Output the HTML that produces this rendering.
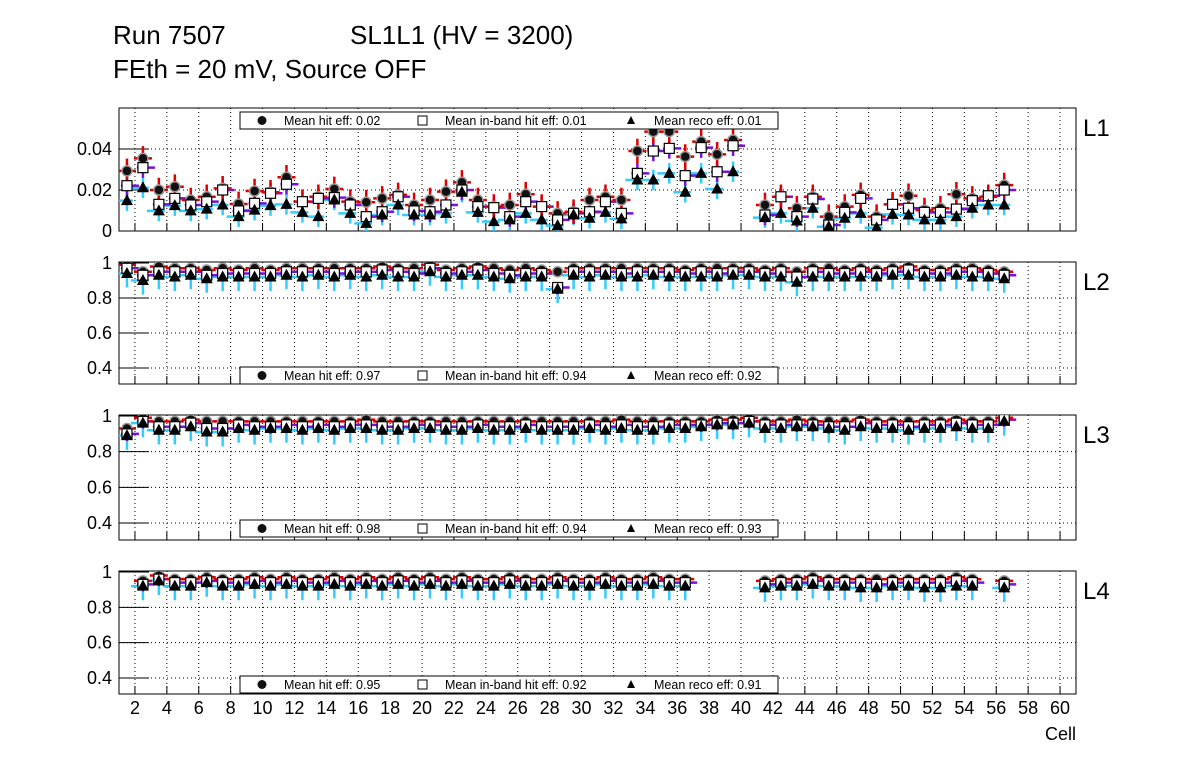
<!DOCTYPE html>
<html><head><meta charset="utf-8"><style>
html,body{margin:0;padding:0;background:#fff;}
svg{display:block;font-family:"Liberation Sans",sans-serif;}
</style></head><body>
<svg id="c" width="1196" height="772" viewBox="0 0 1196 772" xmlns="http://www.w3.org/2000/svg">
<rect width="1196" height="772" fill="#fff"/>
<text x="113" y="44" font-size="26">Run 7507</text>
<text x="350" y="44" font-size="26">SL1L1 (HV = 3200)</text>
<text x="113" y="78" font-size="26">FEth = 20 mV, Source OFF</text>
<text x="1076" y="740" font-size="18" text-anchor="end">Cell</text>
</svg>
<script>
const cells = [];
for (let k = 1; k <= 56; k++) cells.push(k + 0.5);
const layerNames = ["L1","L2","L3","L4"];
const meanHit = ["0.02","0.97","0.98","0.95"];
const meanInband = ["0.01","0.94","0.94","0.92"];
const meanReco = ["0.01","0.92","0.93","0.91"];
const xTicks = [2,4,6,8,10,12,14,16,18,20,22,24,26,28,30,32,34,36,38,40,42,44,46,48,50,52,54,56,58,60];
const yTicksL1 = [0,0.02,0.04];
const yTickLabelsL1 = ["0","0.02","0.04"];
const yTicksL = [0.4,0.6,0.8,1];
const yTickLabelsL = ["0.4","0.6","0.8","1"];
const N = null;
const hitL1 = [0.0293,0.0354,0.0200,0.0216,0.0151,0.0167,0.0208,0.0132,0.0195,0.0189,0.0262,0.0143,0.0167,0.0205,0.0143,0.0140,0.0159,0.0176,0.0127,0.0151,0.0192,0.0237,0.0151,0.0119,0.0127,0.0179,0.0119,0.0086,0.0094,0.0151,0.0167,0.0151,0.0390,0.0485,0.0485,0.0363,0.0436,0.0374,0.0444,N,0.0127,0.0167,0.0111,0.0167,0.0070,0.0119,0.0176,0.0070,0.0130,0.0172,0.0102,0.0111,0.0179,0.0159,0.0167,0.0224];
const inbandL1 = [0.0221,0.0309,0.0130,0.0159,0.0127,0.0143,0.0200,0.0098,0.0135,0.0184,0.0228,0.0143,0.0159,0.0163,0.0127,0.0070,0.0094,0.0167,0.0098,0.0094,0.0127,0.0200,0.0119,0.0114,0.0070,0.0143,0.0119,0.0054,0.0086,0.0094,0.0143,0.0086,0.0281,0.0390,0.0403,0.0270,0.0407,0.0289,0.0416,N,0.0078,0.0167,0.0070,0.0156,0.0029,0.0091,0.0159,0.0054,0.0130,0.0111,0.0091,0.0091,0.0107,0.0148,0.0172,0.0200];
const recoL1 = [0.0148,0.0211,0.0098,0.0124,0.0098,0.0107,0.0127,0.0070,0.0102,0.0124,0.0130,0.0091,0.0070,0.0151,0.0086,0.0037,0.0078,0.0127,0.0078,0.0078,0.0086,0.0189,0.0091,0.0046,0.0054,0.0086,0.0054,0.0026,0.0078,0.0062,0.0091,0.0059,0.0249,0.0249,0.0281,0.0189,0.0281,0.0205,0.0289,N,0.0065,0.0086,0.0049,0.0111,0.0021,0.0062,0.0086,0.0016,0.0081,0.0078,0.0054,0.0054,0.0070,0.0111,0.0127,0.0127];
const hitL2 = [0.99,0.95,0.98,0.97,0.97,0.96,0.97,0.96,0.97,0.96,0.97,0.97,0.97,0.97,0.97,0.97,0.98,0.97,0.97,0.99,0.96,0.97,0.98,0.97,0.96,0.97,0.96,0.95,0.97,0.97,0.97,0.97,0.97,0.97,0.97,0.96,0.97,0.97,0.97,0.97,0.96,0.97,0.95,0.97,0.97,0.96,0.97,0.96,0.97,0.98,0.96,0.96,0.97,0.97,0.96,0.95];
const inbandL2 = [0.97,0.93,0.95,0.95,0.95,0.93,0.94,0.94,0.94,0.94,0.95,0.95,0.95,0.94,0.95,0.95,0.96,0.95,0.94,0.97,0.94,0.95,0.96,0.94,0.93,0.94,0.94,0.86,0.95,0.95,0.95,0.94,0.95,0.95,0.95,0.94,0.95,0.94,0.95,0.95,0.94,0.95,0.92,0.95,0.94,0.94,0.95,0.94,0.95,0.96,0.94,0.94,0.95,0.95,0.94,0.93];
const recoL2 = [0.94,0.90,0.93,0.92,0.93,0.91,0.92,0.92,0.92,0.92,0.93,0.92,0.93,0.92,0.93,0.92,0.93,0.92,0.92,0.95,0.92,0.93,0.93,0.92,0.91,0.92,0.92,0.85,0.93,0.92,0.93,0.92,0.92,0.93,0.92,0.92,0.92,0.92,0.93,0.93,0.92,0.92,0.89,0.92,0.92,0.92,0.92,0.92,0.93,0.93,0.92,0.92,0.93,0.92,0.92,0.91];
const hitL3 = [0.93,0.99,0.97,0.97,0.98,0.97,0.97,0.97,0.97,0.97,0.97,0.97,0.97,0.97,0.97,0.98,0.97,0.97,0.97,0.97,0.97,0.97,0.97,0.97,0.97,0.97,0.97,0.97,0.97,0.97,0.97,0.98,0.97,0.97,0.97,0.97,0.97,0.98,0.98,0.99,0.97,0.97,0.98,0.97,0.97,0.97,0.98,0.97,0.97,0.97,0.97,0.97,0.98,0.97,0.97,0.99];
const inbandL3 = [0.90,0.97,0.94,0.94,0.96,0.93,0.93,0.95,0.94,0.94,0.95,0.94,0.95,0.94,0.95,0.95,0.94,0.94,0.95,0.95,0.94,0.94,0.95,0.94,0.94,0.95,0.94,0.94,0.94,0.95,0.94,0.95,0.94,0.94,0.95,0.95,0.95,0.96,0.96,0.97,0.95,0.95,0.95,0.95,0.94,0.94,0.96,0.95,0.95,0.94,0.95,0.95,0.96,0.95,0.95,0.98];
const recoL3 = [0.89,0.96,0.92,0.92,0.94,0.91,0.91,0.93,0.92,0.93,0.93,0.92,0.93,0.92,0.93,0.93,0.92,0.92,0.93,0.93,0.92,0.92,0.93,0.92,0.92,0.93,0.92,0.92,0.92,0.93,0.92,0.93,0.92,0.92,0.93,0.93,0.94,0.95,0.95,0.96,0.93,0.93,0.94,0.94,0.93,0.92,0.94,0.93,0.93,0.92,0.93,0.93,0.94,0.93,0.93,0.97];
const hitL4 = [N,0.95,0.98,0.96,0.96,0.97,0.96,0.96,0.97,0.96,0.97,0.96,0.96,0.97,0.96,0.97,0.96,0.97,0.96,0.97,0.96,0.97,0.96,0.96,0.97,0.96,0.96,0.97,0.96,0.96,0.97,0.96,0.96,0.97,0.96,0.96,N,N,N,N,0.95,0.96,0.96,0.97,0.96,0.96,0.96,0.96,0.96,0.96,0.96,0.96,0.97,0.96,N,0.95];
const inbandL4 = [N,0.93,0.96,0.94,0.94,0.95,0.94,0.94,0.95,0.94,0.95,0.94,0.94,0.95,0.94,0.95,0.94,0.95,0.94,0.95,0.94,0.95,0.94,0.94,0.95,0.94,0.94,0.95,0.94,0.94,0.95,0.94,0.94,0.95,0.94,0.94,N,N,N,N,0.93,0.94,0.94,0.95,0.94,0.94,0.94,0.93,0.94,0.94,0.94,0.94,0.95,0.94,N,0.93];
const recoL4 = [N,0.92,0.95,0.92,0.92,0.94,0.92,0.92,0.93,0.92,0.93,0.92,0.92,0.93,0.92,0.93,0.92,0.93,0.92,0.93,0.92,0.93,0.92,0.92,0.93,0.92,0.92,0.93,0.92,0.92,0.93,0.92,0.92,0.93,0.92,0.92,N,N,N,N,0.91,0.92,0.92,0.93,0.92,0.92,0.91,0.91,0.92,0.92,0.91,0.91,0.92,0.92,N,0.91];
const hitSeries = [hitL1,hitL2,hitL3,hitL4];
const inbandSeries = [inbandL1,inbandL2,inbandL3,inbandL4];
const recoSeries = [recoL1,recoL2,recoL3,recoL4];

const svg = document.getElementById('c');
const NS = 'http://www.w3.org/2000/svg';
function mk(tag, a, parent){ const e=document.createElementNS(NS,tag); for(const k in a) e.setAttribute(k,a[k]); (parent||svg).appendChild(e); return e; }
const X0 = 119, X1 = 1076;
function xs(c){ return X0 + (c-1)*(X1-X0)/60; }
const geo = [
  {top:108,bot:231,v0:0,p0:231,v1:0.04,p1:149,legY:112},
  {top:262,bot:384,v0:1,p0:263,v1:0.4,p1:368,legY:367},
  {top:415,bot:540,v0:1,p0:416,v1:0.4,p1:523,legY:520},
  {top:571,bot:694,v0:1,p0:572,v1:0.4,p1:678,legY:676}
];
for (let p=0;p<4;p++){
  const g = geo[p];
  const ys = v => g.p0 + (v-g.v0)*(g.p1-g.p0)/(g.v1-g.v0);
  const grp = mk('g',{});
  
  
  const cp = mk('clipPath',{id:'cp'+p},grp);
  mk('rect',{x:X0,y:g.top,width:X1-X0,height:g.bot-g.top},cp);
  xTicks.forEach(t=>{
    const l = mk('line',{x1:xs(t),x2:xs(t),y1:g.top,y2:g.bot,stroke:'#000','stroke-width':1,'stroke-dasharray':'1,3'},grp);
    
    
    const tk = mk('line',{x1:xs(t),x2:xs(t),y1:g.bot,y2:g.bot-8,stroke:'#000'},grp);
    
    
  });
  const yt = p===0 ? yTicksL1 : yTicksL;
  const ytl = p===0 ? yTickLabelsL1 : yTickLabelsL;
  yt.forEach((t,i)=>{
    const y = ys(t);
    if (t!==1 && t!==0){
      const l = mk('line',{x1:X0,x2:X1,y1:y,y2:y,stroke:'#000','stroke-dasharray':'1,3'},grp);
      
      
    }
    const tk = mk('line',{x1:X0,x2:X0+30,y1:y,y2:y,stroke:'#000'},grp);
    
    
    const tx = mk('text',{x:112,y:y+6,'font-size':18,'text-anchor':'end'},grp);
    tx.textContent = ytl[i];
    
    
  });
  const fr = mk('rect',{x:X0,y:g.top,width:X1-X0,height:g.bot-g.top,fill:'none',stroke:'#000','stroke-width':1},grp);
  
  
  const lab = mk('text',{x:1083,y:g.top+28,'font-size':24},grp);
  lab.textContent = layerNames[p];
  
  
  const data = mk('g',{'clip-path':'url(#cp'+p+')'},grp);
  const eUp = p===0 ? [0.006,0.005,0.005] : [0.015,0.025,0.04];
  const eDn = p===0 ? [0.006,0.005,0.005] : [0.03,0.04,0.08];
  const series = [[recoSeries[p],'#33ccff',-12,6,2],[inbandSeries[p],'#7711dd',-6,12,1],[hitSeries[p],'#dd0000',-9,9,0]];
  series.forEach(([arr,col,a,b,si])=>{
    arr.forEach((v,i)=>{
      if (v===null) return;
      const x = xs(cells[i]), y = ys(v);
      const eb = mk('path',{d:`M${x},${ys(v+eUp[si])}V${ys(v-eDn[si])}M${x+a},${y}H${x+b}`,stroke:col,'stroke-width':2.5,fill:'none'},data);
      
      
    });
  });
  hitSeries[p].forEach((v,i)=>{ if(v===null) return;
    const m = mk('circle',{cx:xs(cells[i]),cy:ys(v),r:5,fill:'#111',stroke:'#999','stroke-width':1.5},data);
    
    
  });
  inbandSeries[p].forEach((v,i)=>{ if(v===null) return;
    const m = mk('rect',{x:xs(cells[i])-5,y:ys(v)-5,width:10,height:10,fill:'#fff',stroke:'#000','stroke-width':1.2},data);
    
    
  });
  recoSeries[p].forEach((v,i)=>{ if(v===null) return;
    const x=xs(cells[i]), y=ys(v);
    const m = mk('path',{d:`M${x},${y-6.5}L${x+6},${y+4.5}L${x-6},${y+4.5}Z`,fill:'#000'},data);
    
    
  });
  const lg = mk('g',{},grp);
  
  
  const ly = g.legY;
  mk('rect',{x:240,y:ly,width:538,height:17,fill:'#fff',stroke:'#000'},lg);
  mk('circle',{cx:262,cy:ly+8.5,r:4.5,fill:'#111'},lg);
  const t1 = mk('text',{x:284,y:ly+13,'font-size':12.5},lg); t1.textContent='Mean hit  eff: '+meanHit[p];
  
  
  mk('rect',{x:418,y:ly+4,width:9,height:9,fill:'#fff',stroke:'#000'},lg);
  const t2 = mk('text',{x:445,y:ly+13,'font-size':12.5},lg); t2.textContent='Mean in-band hit eff: '+meanInband[p];
  
  
  mk('path',{d:`M631,${ly+4}L635,${ly+12}L627,${ly+12}Z`,fill:'#000'},lg);
  const t3 = mk('text',{x:654,y:ly+13,'font-size':12.5},lg); t3.textContent='Mean reco eff: '+meanReco[p];
  
  
}
xTicks.forEach(t=>{
  const tx = mk('text',{x:xs(t),y:714,'font-size':18,'text-anchor':'middle'});
  tx.textContent = String(t);
  
  
});
</script>
</body></html>
